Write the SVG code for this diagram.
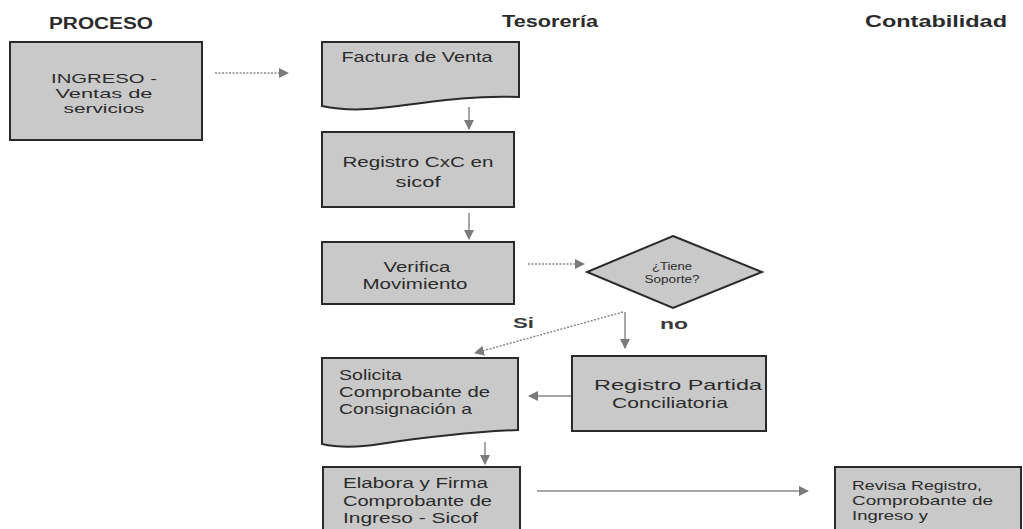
<svg xmlns="http://www.w3.org/2000/svg" width="1023" height="529" viewBox="0 0 1023 529">
<style>
.box{fill:#c9c9c9;stroke:#2a2a2a;stroke-width:2}
.t{font-family:"Liberation Sans","Open Sans",sans-serif;font-size:14px;fill:#2b2b2b}
.c{text-anchor:middle}
.h{font-family:"Liberation Sans","Open Sans",sans-serif;font-size:16px;font-weight:bold;fill:#2b2b2b;text-anchor:middle}
.lbl{font-family:"Liberation Sans","Open Sans",sans-serif;font-size:14px;font-weight:bold;fill:#3a3a3a}
.ln{fill:none;stroke:#8a8a8a;stroke-width:1.5;marker-end:url(#ah)}
.dot{stroke-dasharray:2 1.5}
</style>
<defs>
<marker id="ah" viewBox="0 0 10 10" refX="9" refY="5" markerWidth="10" markerHeight="10" markerUnits="userSpaceOnUse" orient="auto">
<path d="M0,0 L10,5 L0,10 Z" fill="#7a7a7a"/>
</marker>
</defs>
<rect width="1023" height="529" fill="#ffffff"/>
<g id="headers">
<text class="h" x="101" y="29" textLength="104" lengthAdjust="spacingAndGlyphs">PROCESO</text>
<text class="h" x="550" y="27" textLength="96" lengthAdjust="spacingAndGlyphs">Tesorería</text>
<text class="h" x="936" y="27" textLength="142" lengthAdjust="spacingAndGlyphs">Contabilidad</text>
</g>
<g id="connectors">
<line class="ln dot" x1="215" y1="73" x2="288" y2="73"/>
<line class="ln" x1="469" y1="107" x2="469" y2="129"/>
<line class="ln" x1="469" y1="213" x2="469" y2="239"/>
<line class="ln dot" x1="528" y1="264" x2="584" y2="264"/>
<line class="ln dot" x1="623" y1="312" x2="475" y2="353"/>
<line class="ln" x1="625" y1="312" x2="625" y2="348"/>
<line class="ln" x1="572" y1="396" x2="529" y2="396"/>
<line class="ln" x1="485" y1="442" x2="485" y2="464"/>
<line class="ln" x1="537" y1="491" x2="808" y2="491"/>
<text class="lbl" x="513" y="328" textLength="21" lengthAdjust="spacingAndGlyphs">Si</text>
<text class="lbl" x="660" y="329" textLength="28" lengthAdjust="spacingAndGlyphs">no</text>
</g>
<g id="ingreso">
<rect class="box" x="10" y="42" width="192" height="98"/>
<text class="t c" style="font-size:13px" x="104" y="83" textLength="106" lengthAdjust="spacingAndGlyphs">INGRESO -</text>
<text class="t c" style="font-size:13px" x="104" y="98" textLength="97" lengthAdjust="spacingAndGlyphs">Ventas de</text>
<text class="t c" style="font-size:13px" x="104" y="113" textLength="81" lengthAdjust="spacingAndGlyphs">servicios</text>
</g>
<g id="factura">
<path class="box" d="M322,42 H519 V97 C470,95 430,102 390,107 C360,111 340,110 322,106 Z"/>
<text class="t c" x="417" y="62" textLength="151" lengthAdjust="spacingAndGlyphs">Factura de Venta</text>
</g>
<g id="registro-cxc">
<rect class="box" x="322" y="132" width="192" height="75"/>
<text class="t c" x="418" y="167" textLength="151" lengthAdjust="spacingAndGlyphs">Registro CxC en</text>
<text class="t c" x="418" y="187" textLength="45" lengthAdjust="spacingAndGlyphs">sicof</text>
</g>
<g id="verifica">
<rect class="box" x="322" y="242" width="192" height="62"/>
<text class="t c" x="417" y="272" textLength="67" lengthAdjust="spacingAndGlyphs">Verifica</text>
<text class="t c" x="415" y="289" textLength="105" lengthAdjust="spacingAndGlyphs">Movimiento</text>
</g>
<g id="tiene-soporte">
<polygon class="box" points="673,236 762,272 673,308 587,272"/>
<text class="t c" style="font-size:10px" x="672" y="270" textLength="40" lengthAdjust="spacingAndGlyphs">¿Tiene</text>
<text class="t c" style="font-size:10px" x="672" y="283" textLength="55" lengthAdjust="spacingAndGlyphs">Soporte?</text>
</g>
<g id="solicita">
<path class="box" d="M322,358 H518 V430 C470,432 420,438 380,444 C355,448 335,447 322,444 Z"/>
<text class="t" x="339" y="380" textLength="63" lengthAdjust="spacingAndGlyphs">Solicita</text>
<text class="t" x="339" y="397" textLength="151" lengthAdjust="spacingAndGlyphs">Comprobante de</text>
<text class="t" x="339" y="414" textLength="133" lengthAdjust="spacingAndGlyphs">Consignación a</text>
</g>
<g id="registro-partida">
<rect class="box" x="572" y="356" width="194" height="75"/>
<text class="t c" style="font-size:15px" x="678" y="390" textLength="168" lengthAdjust="spacingAndGlyphs">Registro Partida</text>
<text class="t c" style="font-size:15px" x="670" y="408" textLength="116" lengthAdjust="spacingAndGlyphs">Conciliatoria</text>
</g>
<g id="elabora">
<rect class="box" x="323" y="467" width="197" height="70"/>
<text class="t" x="343" y="488" textLength="145" lengthAdjust="spacingAndGlyphs">Elabora y Firma</text>
<text class="t" x="343" y="506" textLength="149" lengthAdjust="spacingAndGlyphs">Comprobante de</text>
<text class="t" x="343" y="523" textLength="135" lengthAdjust="spacingAndGlyphs">Ingreso - Sicof</text>
</g>
<g id="revisa">
<rect class="box" x="835" y="467" width="186" height="70"/>
<text class="t" style="font-size:13px" x="852" y="490" textLength="130" lengthAdjust="spacingAndGlyphs">Revisa Registro,</text>
<text class="t" style="font-size:13px" x="852" y="505" textLength="141" lengthAdjust="spacingAndGlyphs">Comprobante de</text>
<text class="t" style="font-size:13px" x="852" y="520" textLength="76" lengthAdjust="spacingAndGlyphs">Ingreso y</text>
</g>
</svg>
